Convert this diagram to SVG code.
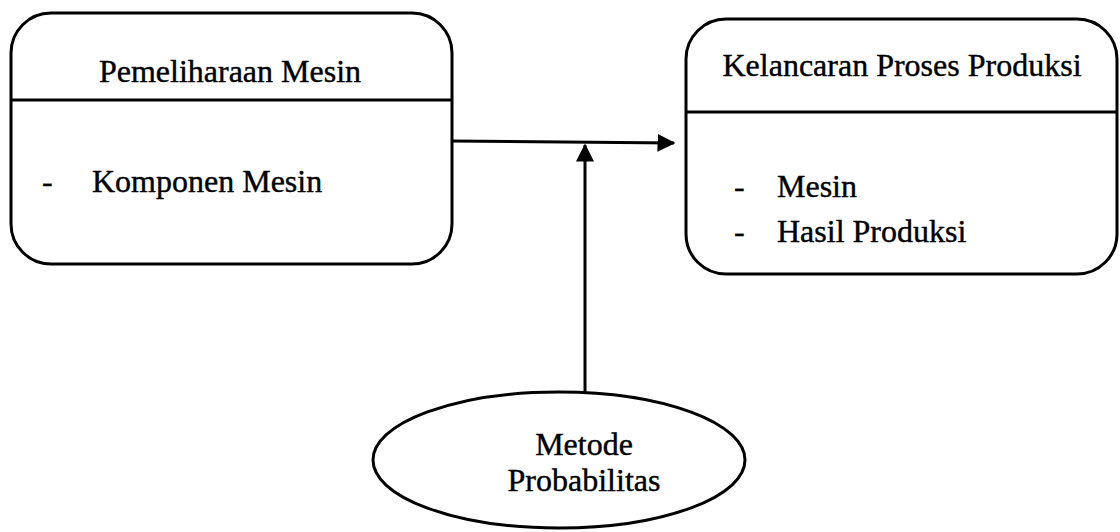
<svg xmlns="http://www.w3.org/2000/svg" width="1120" height="532" viewBox="0 0 1120 532">
<style>
.box{fill:#fff;stroke:#000;stroke-width:3}
.div{stroke:#000;stroke-width:3}
.t{font-family:"Liberation Serif","Times New Roman",serif;font-size:32px;fill:#000;stroke:#000;stroke-width:0.4}
.c{stroke:#000;stroke-width:3;fill:none}
</style>
<defs>
<marker id="ah" markerWidth="6" markerHeight="6" refX="5.5" refY="3" orient="auto" markerUnits="strokeWidth">
<path d="M0,0 L6,3 L0,6 Z" fill="#000"/>
</marker>
</defs>
<rect width="1120" height="532" fill="#fff"/>
<g id="pemeliharaan">
<rect class="box" x="11" y="13" width="441" height="251" rx="40"/>
<line class="div" x1="11" y1="100" x2="452" y2="100"/>
<text class="t" x="230" y="82" text-anchor="middle">Pemeliharaan Mesin</text>
<text class="t" x="42" y="192">-</text>
<text class="t" x="92" y="192">Komponen Mesin</text>
</g>
<g id="kelancaran">
<rect class="box" x="686" y="19" width="431" height="255" rx="40"/>
<line class="div" x1="686" y1="112" x2="1117" y2="112"/>
<text class="t" x="902" y="76" text-anchor="middle">Kelancaran Proses Produksi</text>
<text class="t" x="734" y="197">-</text>
<text class="t" x="777" y="197">Mesin</text>
<text class="t" x="734" y="242">-</text>
<text class="t" x="777" y="242">Hasil Produksi</text>
</g>
<g id="metode">
<ellipse class="box" cx="559" cy="460" rx="186" ry="68"/>
<text class="t" x="584" y="455" text-anchor="middle">Metode</text>
<text class="t" x="584" y="491" text-anchor="middle">Probabilitas</text>
</g>
<g id="connectors">
<line class="c" x1="452" y1="141" x2="674" y2="143" marker-end="url(#ah)"/>
<line class="c" x1="585" y1="392" x2="585" y2="145" marker-end="url(#ah)"/>
</g>
</svg>
